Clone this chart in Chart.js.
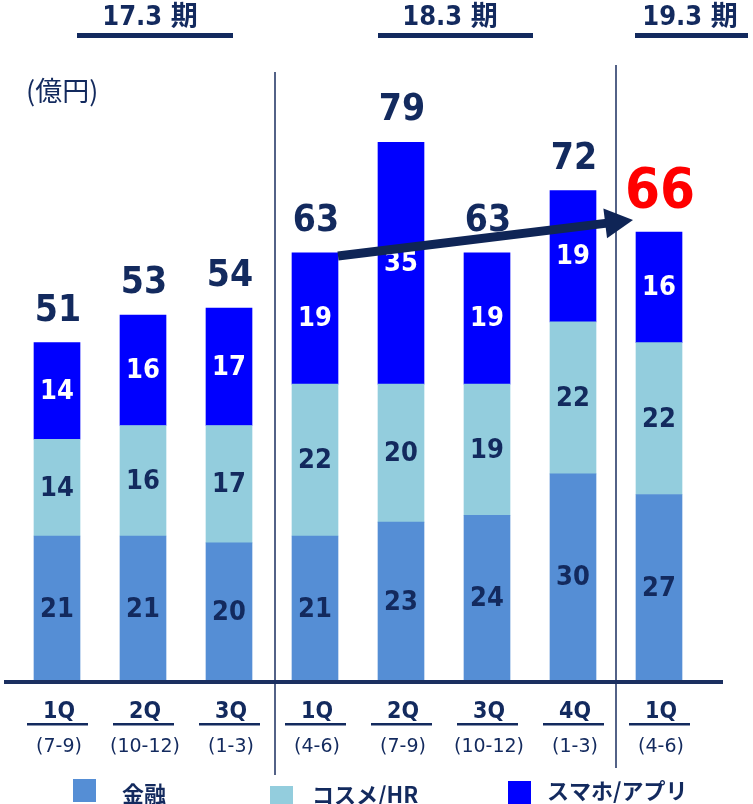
<!DOCTYPE html>
<html>
<head>
<meta charset="utf-8">
<script src="https://cdn.jsdelivr.net/npm/chart.js@4.4.1/dist/chart.umd.min.js"></script>
<style>
  html, body { margin: 0; padding: 0; background: #ffffff; }
  #wrap { width: 753px; height: 804px; position: relative; }
</style>
</head>
<body>
<div id="wrap"><canvas id="chart" width="753" height="804"></canvas></div>
<script>
// Quarterly revenue by business segment (億円)
const quarters = ['1Q', '2Q', '3Q', '1Q', '2Q', '3Q', '4Q', '1Q'];
const months = ['(7-9)', '(10-12)', '(1-3)', '(4-6)', '(7-9)', '(10-12)', '(1-3)', '(4-6)'];
const finance = [21, 21, 20, 21, 23, 24, 30, 27];
const cosmeHR = [14, 16, 17, 22, 20, 19, 22, 22];
const smartphone = [14, 16, 17, 19, 35, 19, 19, 16];
const totals = [51, 53, 54, 63, 79, 63, 72, 66];
const periods = ['17.3 期', '18.3 期', '19.3 期'];
const seriesNames = ['金融', 'コスメ/HR', 'スマホ/アプリ'];
const unitLabel = '(億円)';

const NAVY = '#132a5e';
const COLORS = ['#558ed5', '#93cddd', '#0000ff'];
const LABEL_COLORS = [NAVY, NAVY, '#ffffff'];
const NUM = '"DejaVu Sans Condensed", "DejaVu Sans", "Noto Sans CJK JP", sans-serif';
const JP = '"Noto Sans CJK JP", sans-serif';

const decor = {
  id: 'decor',
  afterDatasetsDraw(chart) {
    const ctx = chart.ctx;
    const xs = chart.scales.x;
    const area = chart.chartArea;
    const xAt = i => xs.getPixelForValue(i);
    ctx.save();

    // segment values inside the bars
    ctx.textAlign = 'center';
    ctx.textBaseline = 'middle';
    ctx.font = 'bold 27px ' + NUM;
    chart.data.datasets.forEach((ds, di) => {
      const meta = chart.getDatasetMeta(di);
      meta.data.forEach((bar, i) => {
        ctx.fillStyle = LABEL_COLORS[di];
        ctx.fillText(String(ds.data[i]), bar.x, (bar.y + bar.base) / 2 + 1);
      });
    });

    // totals above each stack
    const top = chart.getDatasetMeta(2).data;
    ctx.textBaseline = 'alphabetic';
    top.forEach((bar, i) => {
      const last = i === top.length - 1;
      ctx.fillStyle = last ? '#ff0000' : NAVY;
      ctx.font = 'bold ' + (last ? 56 : 37) + 'px ' + NUM;
      ctx.fillText(String(totals[i]), bar.x + 1, bar.y - (last ? 25 : 22));
    });

    // baseline
    ctx.fillStyle = '#1b2f60';
    ctx.fillRect(4, area.bottom - 1, 719, 4);

    // fiscal-year separators
    ctx.strokeStyle = '#1b2f60';
    ctx.lineWidth = 1.5;
    const s1 = (xAt(2) + xAt(3)) / 2 + 3;
    const s2 = (xAt(6) + xAt(7)) / 2;
    ctx.beginPath();
    ctx.moveTo(s1, 72); ctx.lineTo(s1, 775);
    ctx.moveTo(s2, 65); ctx.lineTo(s2, 768);
    ctx.stroke();

    // quarter labels
    quarters.forEach((q, i) => {
      const x = xAt(i);
      ctx.fillStyle = NAVY;
      ctx.textAlign = 'center';
      ctx.textBaseline = 'middle';
      ctx.font = 'bold 23px ' + NUM;
      ctx.fillText(q, x + 2, 712);
      ctx.fillRect(x - 30, 723, 61, 2.5);
      ctx.font = '19px "DejaVu Sans", sans-serif';
      ctx.fillText(months[i], x + 2, 747);
    });

    // fiscal-year headers
    const heads = [[150, 77, 233], [450, 378, 533], [690, 635, 748]];
    ctx.font = 'bold 27px ' + NUM;
    ctx.textBaseline = 'middle';
    periods.forEach((p, i) => {
      const [cx, l, r] = heads[i];
      ctx.fillStyle = NAVY;
      ctx.fillText(p, cx, 18);
      ctx.fillRect(l, 33, r - l, 5);
    });

    // unit
    ctx.textAlign = 'left';
    ctx.font = '27px ' + JP;
    ctx.fillText(unitLabel, 26, 91);

    // growth arrow
    const x0 = xAt(3) + 23, y0 = 256;
    const x1 = xAt(7) - 26, y1 = 220;
    const ang = Math.atan2(y1 - y0, x1 - x0);
    const headLen = 28, headHalf = 15;
    const bx = x1 - headLen * Math.cos(ang), by = y1 - headLen * Math.sin(ang);
    ctx.strokeStyle = '#0f2556';
    ctx.fillStyle = '#0f2556';
    ctx.lineWidth = 9;
    ctx.beginPath();
    ctx.moveTo(x0, y0); ctx.lineTo(bx + 2 * Math.cos(ang), by + 2 * Math.sin(ang));
    ctx.stroke();
    ctx.beginPath();
    ctx.moveTo(x1, y1);
    ctx.lineTo(bx + headHalf * Math.sin(ang), by - headHalf * Math.cos(ang));
    ctx.lineTo(bx - headHalf * Math.sin(ang), by + headHalf * Math.cos(ang));
    ctx.closePath();
    ctx.fill();

    // legend
    const legend = [[73, 779, 122, 794], [270, 786, 312, 795], [508, 781, 547, 791]];
    ctx.font = 'bold 22px ' + JP;
    seriesNames.forEach((n, i) => {
      const [sx, sy, tx, ty] = legend[i];
      ctx.fillStyle = COLORS[i];
      ctx.fillRect(sx, sy, 23, 23);
      ctx.fillStyle = NAVY;
      ctx.textBaseline = 'middle';
      ctx.fillText(n, tx, ty);
    });

    ctx.restore();
  }
};

new Chart(document.getElementById('chart'), {
  type: 'bar',
  data: {
    labels: quarters.map((q, i) => q + ' ' + months[i]),
    datasets: [
      { label: seriesNames[0], data: finance, backgroundColor: COLORS[0] },
      { label: seriesNames[1], data: cosmeHR, backgroundColor: COLORS[1] },
      { label: seriesNames[2], data: smartphone, backgroundColor: COLORS[2] }
    ].map(d => Object.assign(d, { barThickness: 46, borderWidth: 0 }))
  },
  options: {
    responsive: false,
    devicePixelRatio: 1,
    animation: false,
    layout: { padding: { top: 94, bottom: 123, left: 14, right: 51 } },
    scales: {
      x: { display: false, stacked: true },
      y: { display: false, stacked: true, min: 0, max: 85 }
    },
    plugins: { legend: { display: false }, tooltip: { enabled: false } }
  },
  plugins: [decor]
});
</script>
</body>
</html>
